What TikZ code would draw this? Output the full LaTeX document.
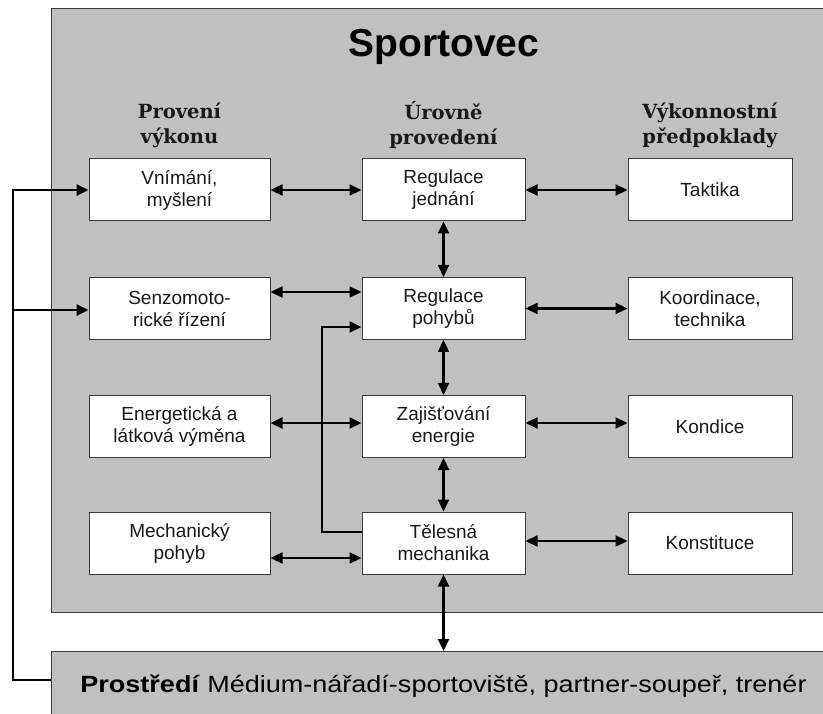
\documentclass[tikz,border=0pt]{standalone}
\usepackage{fontspec}
\setmainfont{Liberation Sans}
\newfontfamily\headfont{DejaVu Serif}
\usetikzlibrary{arrows.meta,positioning}
\definecolor{PanelGray}{RGB}{192,192,192}
\definecolor{EdgeGray}{RGB}{60,60,60}
\definecolor{InkGray}{RGB}{25,25,25}
\tikzset{
  panel/.style={draw=EdgeGray, fill=PanelGray, line width=1.2pt, inner sep=0pt,
                anchor=north west},
  unit/.style={draw=EdgeGray, fill=white, line width=1pt, minimum height=62pt,
               align=center, inner sep=0pt, text=InkGray,
               font=\fontsize{19}{22}\selectfont},
  colA/.style={unit, minimum width=181pt},
  colB/.style={unit, minimum width=163pt},
  colC/.style={unit, minimum width=164pt},
  head/.style={font=\headfont\bfseries\fontsize{19.5}{25}\selectfont, align=center,
               text=InkGray},
  link/.style={{Triangle[length=12pt,width=11pt]}-{Triangle[length=12pt,width=11pt]},
               line width=2.2pt},
  feed/.style={-{Triangle[length=12pt,width=11pt]}, line width=2.6pt},
  loopline/.style={-{Triangle[length=12pt,width=11pt]}, line width=1.8pt}
}

\begin{document}
\begin{tikzpicture}[x=1pt,y=-1pt]
\useasboundingbox (0,0) rectangle (823,714);
% outer panels
\node[panel, minimum width=800pt, minimum height=604pt] (athlete) at (51,8) {};
\node[panel, minimum width=785pt, minimum height=90pt] (env) at (51,651) {};
\node[anchor=base, font=\bfseries\fontsize{39}{44}\selectfont] (title) at (444,57) {Sportovec};
\node[anchor=base, font=\fontsize{23.5}{28}\selectfont] (envlabel) at (443.5,692)
  {\scalebox{1.15}[1]{\textbf{Prostředí} Médium-nářadí-sportoviště, partner-soupeř, trenér}};
% column heads
\node[head] (h1) at (179.5,125) {Provení\\výkonu};
\node[head] (h2) at (443.5,125) {Úrovně\\provedení};
\node[head] (h3) at (710,125) {Výkonnostní\\předpoklady};
% boxes
\node[colA] (vn) at (179.5,190) {Vnímání,\\myšlení};
\node[colA] (sm) at (179.5,308.5) {Senzomoto-\\rické řízení};
\node[colA] (em) at (179.5,426.5) {Energetická a\\látková výměna};
\node[colA] (mp) at (179.5,543) {Mechanický\\pohyb};
\node[colB] (rj) at (443.5,190) {Regulace\\jednání};
\node[colB] (rp) at (443.5,308.5) {Regulace\\pohybů};
\node[colB] (ze) at (443.5,426.5) {Zajišťování\\energie};
\node[colB] (tm) at (443.5,543) {Tělesná\\mechanika};
\node[colC] (tk) at (710,190) {Taktika};
\node[colC] (kt) at (710,308.5) {Koordinace,\\technika};
\node[colC] (kd) at (710,426.5) {Kondice};
\node[colC] (ks) at (710,543) {Konstituce};
% connectors
\draw[link] (vn) -- (rj);
\draw[link] (rj) -- (tk);
\draw[link] (rj) -- (rp);
\draw[link] ([yshift=16.5pt]sm.east) -- ([yshift=16.5pt]rp.west);
\draw[link] (rp) -- (kt);
\draw[link] (rp) -- (ze);
\draw[link] ([yshift=3.5pt]em.east) -- ([yshift=3.5pt]ze.west);
\draw[link] ([yshift=3.5pt]ze.east) -- ([yshift=3.5pt]kd.west);
\draw[link] (ze) -- (tm);
\draw[link] ([yshift=-15pt]mp.east) -- ([yshift=-15pt]tm.west);
\draw[link] ([yshift=2pt]tm.east) -- ([yshift=2pt]ks.west);
\draw[link] (tm) -- (tm |- env.north);
% loop from body mechanics
\coordinate (lp1) at (322,532);
\coordinate (lp2) at (322,327);
\draw[loopline] (lp1 -| tm.west) -- (lp1) -- (lp2) -- (lp2 -| rp.west);
% feedback from environment
\coordinate (fb1) at (13,680);
\coordinate (fb2) at (13,190);
\coordinate (fb3) at (13,310);
\draw[feed] (env.west |- fb1) -- (fb1) -- (fb2) -- (vn.west);
\draw[feed] (fb3) -- (fb3 -| sm.west);
\end{tikzpicture}
\end{document}
